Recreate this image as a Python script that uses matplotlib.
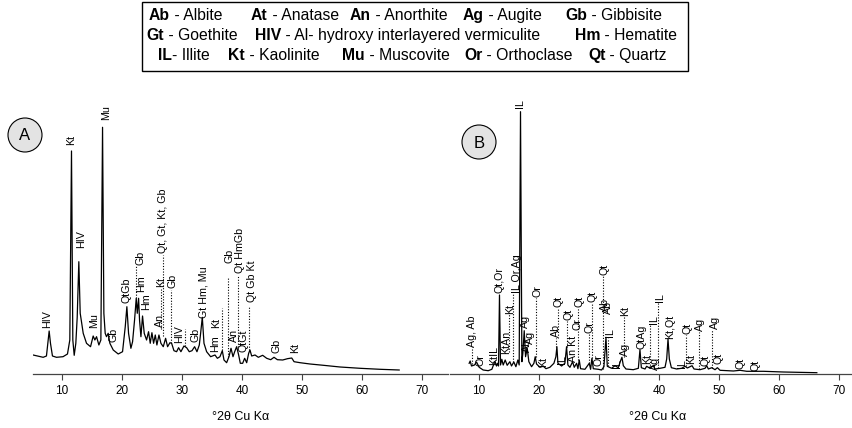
import matplotlib
matplotlib.use("Agg")
import matplotlib.pyplot as plt
from matplotlib.patches import Rectangle, Ellipse

plt.rcParams['font.family'] = ['Liberation Sans', 'DejaVu Sans']

# ---- diffractogram A (2theta in degrees, intensity in arbitrary units) ----
a_2theta = [5.22, 6.89, 7.44, 7.89, 8.11, 8.44, 9.11, 10.2, 10.94, 11.33,
            11.61, 11.83, 12.06, 12.33, 12.56, 12.83, 13.06, 13.28, 13.56, 14.11,
            14.78, 15.22, 15.5, 15.78, 16.17, 16.5, 16.78, 17.0, 17.22, 17.44,
            17.72, 18.0, 18.56, 19.39, 20.11, 20.56, 20.83, 21.11, 21.5, 21.78,
            22.11, 22.39, 22.56, 22.78, 22.94, 23.17, 23.44, 23.72, 24.11, 24.44,
            24.72, 25.0, 25.28, 25.56, 25.83, 26.17, 26.5, 26.89, 27.28, 27.61,
            28.0, 28.28, 28.67, 29.11, 29.44, 29.83, 30.33, 30.78, 31.22, 31.67,
            32.11, 32.5, 32.89, 33.11, 33.39, 33.67, 34.11, 34.78, 35.5, 35.9,
            36.33, 36.72, 37.0, 37.44, 37.83, 38.17, 38.5, 38.78, 39.11, 39.44,
            39.72, 40.11, 40.44, 40.78, 41.11, 41.33, 41.61, 42.17, 42.72, 43.44,
            44.11, 44.78, 45.33, 45.89, 46.78, 47.56, 48.28, 48.67, 49.67, 51.33,
            53.56, 56.33, 59.67, 63.0, 66.17]
a_int = [19, 16.7, 18, 43, 30.7, 18, 16.7, 17.3, 20, 34,
         223, 34, 18.7, 30.7, 56.7, 112.3, 60.7, 52, 40.7, 30.7,
         27.3, 38, 34, 37.3, 29, 34, 246.7, 60.7, 40.7, 37.3,
         40.7, 30.7, 24, 20, 22.3, 47.3, 67.3, 40.7, 25.7, 32.3,
         54, 75.7, 60.7, 75.7, 54, 37.3, 58, 40.7, 34, 42.3,
         30.7, 41.3, 30.7, 39, 29, 39, 30.7, 27.3, 35.7, 27.3,
         31.3, 30.7, 23.3, 22.3, 26.3, 22.3, 28, 26.3, 22.3, 23.3,
         27.3, 22.3, 29, 40.7, 56.7, 30.7, 22.3, 17.3, 19, 15.7,
         17.3, 23.3, 14, 11.3, 17.3, 25.7, 17.3, 22.3, 27.3, 19,
         10.7, 10.7, 15.7, 11.3, 20.7, 24, 18, 19, 16.7, 18.7,
         15.7, 14.3, 16.7, 14.3, 14, 15.3, 16, 12.3, 11.3, 10,
         8.7, 7, 5.7, 4.7, 4]

a_lab = ["HIV", "Kt", "HIV", "Mu", "Mu", "Gb", "QtGb", "Gb", "Hm", "Hm",
         "An", "Kt", "Qt, Gt, Kt, Gb", "Gb", "HIV", "Gb", "Gt Hm, Mu", "Hm", "Kt", "Gb",
         "An", "Qt HmGb", "QtGt", "Qt Gb Kt", "Gb", "Kt"]
a_lab_x = [7.6, 11.6, 13.2, 15.3, 17.3, 18.6, 20.7, 23.1, 23.2, 24.1,
           26.3, 26.6, 26.9, 28.4, 29.6, 32.3, 33.6, 35.5, 35.7, 38.0,
           38.7, 39.7, 40.2, 41.6, 45.7, 48.8]
a_lab_y = [46, 229, 126, 46, 254, 32, 71, 109, 82, 64,
           47, 87, 121, 86, 31, 32, 56, 22, 46, 111,
           32, 101, 22, 72, 21, 21]
a_dot_x = [22.3, 26.5, 26.9, 28.2, 30.5, 36.7, 37.7, 39.3, 41.2]
a_dot_lo = [76, 45, 38, 31, 28, 24, 17, 27, 24]
a_dot_hi = [108, 86, 119, 84, 45, 66, 97, 99, 67]

# ---- diffractogram B ----
b_2theta = [8.39, 8.56, 8.78, 9.28, 9.61, 10.06, 10.72, 11.56, 12.17, 12.5,
            12.72, 12.94, 13.11, 13.28, 13.44, 13.61, 13.83, 14.06, 14.39, 14.72,
            15.17, 15.44, 15.83, 16.17, 16.5, 16.72, 16.94, 17.17, 17.33, 17.56,
            17.78, 18.06, 18.33, 18.78, 19.17, 19.39, 19.61, 20.17, 20.72, 21.17,
            21.83, 22.5, 22.83, 23.0, 23.17, 23.78, 24.33, 24.61, 24.83, 25.17,
            25.61, 25.89, 26.28, 26.5, 26.72, 26.94, 27.67, 28.39, 28.61, 28.83,
            29.06, 29.89, 30.44, 30.83, 31.17, 31.39, 32.11, 32.67, 33.22, 33.61,
            33.83, 34.06, 34.5, 35.72, 36.56, 36.83, 37.06, 37.67, 37.94, 38.5,
            39.06, 39.33, 40.17, 41.0, 41.28, 41.5, 41.72, 42.06, 42.94, 43.78,
            44.33, 44.72, 45.5, 45.83, 46.83, 47.67, 47.94, 48.22, 48.78, 49.33,
            49.72, 50.17, 52.39, 53.5, 54.61, 57.39, 60.72, 66.28]
b_int = [10.7, 13, 8, 9, 12, 6.7, 4, 3.3, 4.7, 10,
         12.3, 8, 10.7, 8, 79, 9, 14.7, 9, 14, 8.7,
         12.3, 8, 12, 7.3, 14, 9, 262.3, 12.3, 20.7, 43.3,
         17.3, 25.7, 12.3, 7.3, 10.7, 17.3, 10, 6.7, 8, 5.3,
         6.7, 10.7, 17.3, 27.3, 10.7, 8, 10.7, 27.3, 9, 6.7,
         12.3, 6.7, 10.7, 5.3, 14, 5.3, 4.7, 10.7, 4.7, 15.7,
         5.3, 4.7, 4, 7.3, 36.7, 7.7, 5.7, 8.3, 6.3, 13.3,
         16.7, 8.3, 5, 4.3, 5.7, 24.3, 6.3, 5, 7.7, 5.7,
         8.3, 5, 5.7, 6.7, 15, 35, 15, 6.3, 5, 5.7,
         7.7, 6, 8.3, 5, 4.3, 5.7, 8.3, 5, 6.3, 4.3,
         6.3, 3.7, 3, 3.7, 2.7, 2.7, 2, 1.3]

b_lab = ["Ag, Ab", "Or", "KtIL", "Qt,Or", "KtAn", "Kt", "IL Or,Ag", "IL", "Ag", "Ab",
         "Ag", "Or", "Kt", "Ab", "Qt", "IL", "Qt", "An Kt", "Or", "Qt",
         "Or", "Qt", "Or", "Ab", "Ab", "Qt", "IL", "IL", "Ag", "Kt",
         "QtAg", "Kt", "Ag", "IL", "IL", "Kt,Qt", "IL", "Qt", "Kt", "Ag",
         "Qt", "Ag", "Qt", "Qt", "Qt"]
b_lab_x = [8.8, 10.2, 12.5, 13.5, 14.5, 15.2, 16.3, 16.9, 17.7, 18.1,
           18.6, 19.7, 20.7, 22.9, 23.2, 23.9, 24.9, 25.7, 26.4, 26.8,
           28.5, 28.9, 30.0, 31.0, 31.5, 31.0, 31.8, 33.0, 34.3, 34.3,
           37.1, 38.0, 39.4, 39.1, 40.2, 41.8, 43.8, 44.7, 45.4, 46.8,
           47.8, 49.3, 49.9, 53.5, 56.0]
b_lab_y = [27, 8, 9, 81, 20, 60, 81, 266, 46, 22,
           30, 77, 7, 37, 67, 10, 54, 12, 44, 67,
           41, 72, 8, 63, 60, 99, 37, 6, 18, 58,
           25, 10, 4, 50, 72, 35, 6, 40, 10, 43,
           8, 45, 10, 5, 3]
b_dot_x = [8.8, 15.1, 15.7, 19.5, 22.8, 23.1, 24.6, 26.5, 28.4, 28.8,
           30.7, 31.5, 34.1, 38.5, 39.9, 44.5, 46.6, 48.8]
b_dot_lo = [10, 22, 12, 17, 27, 36, 27, 14, 11, 16, 5, 8, 17, 6, 6, 8, 5, 6]
b_dot_hi = [27, 60, 80, 76, 36, 66, 53, 66, 40, 71, 98, 36, 57, 49, 71, 39, 42, 44]

# ---- mineral key ----
key_abbr = [["Ab", "At", "An", "Ag", "Gb"],
            ["Gt", "HIV", "Hm"],
            ["IL", "Kt", "Mu", "Or", "Qt"]]
key_name = [[" - Albite", " - Anatase", " - Anorthite", " - Augite", " - Gibbisite"],
            [" - Goethite", " - Al- hydroxy interlayered vermiculite", " - Hematite"],
            ["- Illite", " - Kaolinite", " - Muscovite", " - Orthoclase", " - Quartz"]]
key_col = [[149, 251, 350, 463, 565], [146, 255, 575], [158, 228, 342, 464, 588]]
key_row = [20, 40, 60]

W, H = 853, 428
fig = plt.figure(figsize=(W / 100, H / 100), dpi=100)

XMIN, XMAX, YTOP = 5.2, 74.3, 289


def panel(left, xs, ys, labs, lx, ly, dx, dlo, dhi):
    ax = fig.add_axes([left / W, (H - 374) / H, 415 / W, YTOP / H])
    ax.plot(xs, ys, color='black', lw=0.9)
    for t, x, y in zip(labs, lx, ly):
        ax.text(x, y, t, rotation=90, ha='center', va='bottom', fontsize=7.7)
    ax.vlines(dx, dlo, dhi, colors='black', linestyles=(0, (1, 1.5)), lw=0.8)
    ax.set_xlim(XMIN, XMAX)
    ax.set_ylim(0, YTOP)
    for s in ['left', 'right', 'top']:
        ax.spines[s].set_visible(False)
    ax.spines['bottom'].set_color('#444444')
    ax.spines['bottom'].set_linewidth(0.9)
    ax.set_yticks([])
    ax.set_xticks(range(10, 80, 10))
    ax.tick_params(axis='x', length=4, width=0.8, color='#444444', labelsize=8.5, pad=4)
    ax.set_xlabel('°2θ Cu Kα', fontsize=9, labelpad=10)
    ax.patch.set_visible(False)
    return ax


panel(33, a_2theta, a_int, a_lab, a_lab_x, a_lab_y, a_dot_x, a_dot_lo, a_dot_hi)
panel(450, b_2theta, b_int, b_lab, b_lab_x, b_lab_y, b_dot_x, b_dot_lo, b_dot_hi)

# overlay in pixel units for the key box and panel badges
ov = fig.add_axes([0, 0, 1, 1])
ov.set_xlim(0, W)
ov.set_ylim(H, 0)
ov.axis('off')

ov.add_patch(Rectangle((142, 2), 546, 69, fill=False, ec='black', lw=1))
for abbrs, names, cols, y in zip(key_abbr, key_name, key_col, key_row):
    for ab, nm, x in zip(abbrs, names, cols):
        t = ov.text(x, y, ab, fontweight='bold', fontsize=11.3, va='baseline')
        ov.annotate(nm, xy=(1, 0), xycoords=t, va='bottom', ha='left', fontsize=11.3)

for cx, cy, letter in [(25, 135, 'A'), (479, 142, 'B')]:
    ov.add_patch(Ellipse((cx, cy), 34, 34, fc='#e3e3e3', ec='black', lw=0.8))
    ov.text(cx, cy + 1, letter, ha='center', va='center', fontsize=12)

fig.savefig('out.png', dpi=100)
